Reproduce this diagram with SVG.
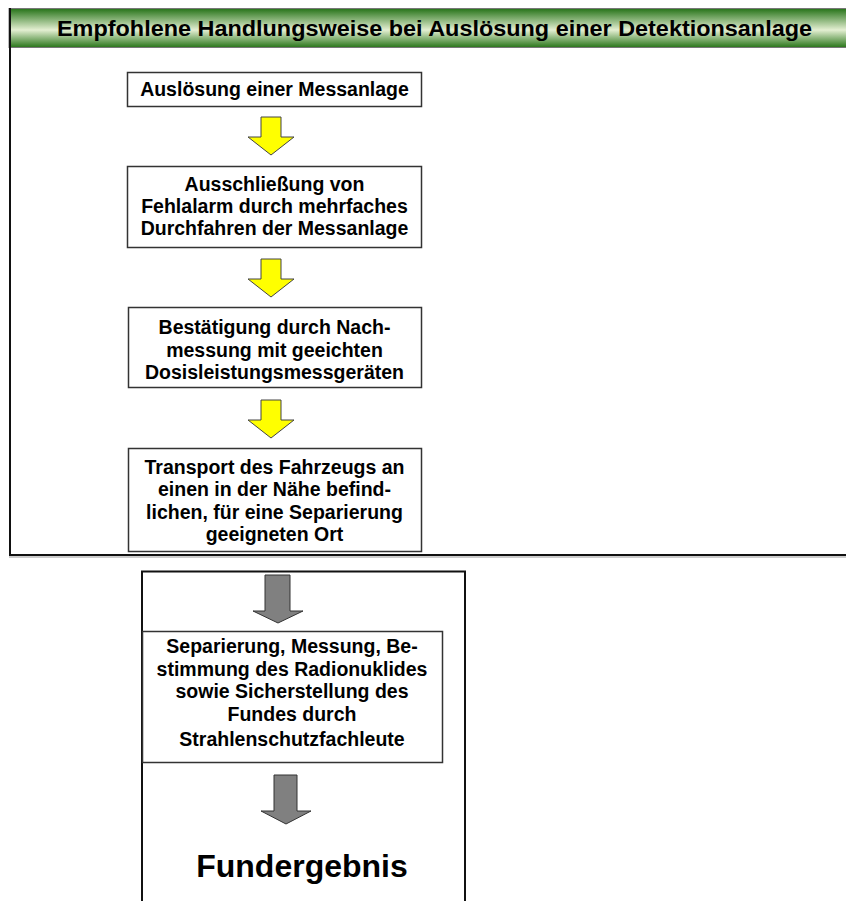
<svg xmlns="http://www.w3.org/2000/svg" width="846" height="901" viewBox="0 0 846 901">
<defs>
<linearGradient id="hdr" x1="0" y1="0" x2="0" y2="1">
<stop offset="0" stop-color="#267318"/>
<stop offset="0.55" stop-color="#e4efd2"/>
<stop offset="1" stop-color="#287519"/>
</linearGradient>
<style>
.box{fill:#fff;stroke:#333;stroke-width:1.5}
.frame{fill:none;stroke:#111;stroke-width:2}
.t{font-family:"Liberation Sans",Arial,sans-serif;font-weight:bold;font-size:19.5px;fill:#000;text-anchor:middle}
.ya{fill:#ffff00;stroke:#444;stroke-width:1}
.ga{fill:#808080;stroke:#333;stroke-width:1}
</style>
</defs>
<rect width="846" height="901" fill="#fff"/>
<g id="frame1">
<rect x="9" y="8.5" width="840" height="39" fill="url(#hdr)" stroke="#777" stroke-width="1"/>
<line x1="10" y1="8" x2="10" y2="555" stroke="#111" stroke-width="2"/>
<line x1="9" y1="555" x2="846" y2="555" stroke="#111" stroke-width="2"/>
<line x1="9" y1="557" x2="846" y2="557" stroke="#999" stroke-width="1"/>
<text x="434.5" y="36" font-family="'Liberation Sans',Arial,sans-serif" font-weight="bold" font-size="22" text-anchor="middle" fill="#000" textLength="755" lengthAdjust="spacingAndGlyphs">Empfohlene Handlungsweise bei Auslösung einer Detektionsanlage</text>
</g>
<g id="frame2">
<path class="frame" d="M142,902 V571.5 H465 V902"/>
</g>
<g id="connectors">
<polygon class="ya" points="261,117 281,117 281,137 294,137 271,155 248,137 261,137"/>
<polygon class="ya" points="261,259 281,259 281,279 294,279 271,297 248,279 261,279"/>
<polygon class="ya" points="261,400 281,400 281,420 294,420 271,438 248,420 261,420"/>
<polygon class="ga" points="265,575 290,575 290,611 303,611 278,623 253,611 265,611"/>
<polygon class="ga" points="274,775 297,775 297,811 311,811 286,824 261,811 274,811"/>
</g>
<g id="n1">
<rect class="box" x="127.5" y="72.5" width="294" height="34"/>
<text class="t" x="274.5" y="96">Auslösung einer Messanlage</text>
</g>
<g id="n2">
<rect class="box" x="127.5" y="166.5" width="294" height="81"/>
<text class="t" x="274.5" y="191">Ausschließung von</text>
<text class="t" x="274.5" y="213">Fehlalarm durch mehrfaches</text>
<text class="t" x="274.5" y="235">Durchfahren der Messanlage</text>
</g>
<g id="n3">
<rect class="box" x="128.5" y="307.5" width="293" height="80"/>
<text class="t" x="274.5" y="334">Bestätigung durch Nach-</text>
<text class="t" x="274.5" y="357">messung mit geeichten</text>
<text class="t" x="274.5" y="379">Dosisleistungsmessgeräten</text>
</g>
<g id="n4">
<rect class="box" x="128.5" y="448.5" width="293" height="103"/>
<text class="t" x="274.5" y="474">Transport des Fahrzeugs an</text>
<text class="t" x="274.5" y="496">einen in der Nähe befind-</text>
<text class="t" x="274.5" y="519">lichen, für eine Separierung</text>
<text class="t" x="274.5" y="541">geeigneten Ort</text>
</g>
<g id="n5">
<rect class="box" x="142.5" y="631.5" width="300" height="131"/>
<text class="t" x="292" y="653">Separierung, Messung, Be-</text>
<text class="t" x="292" y="676">stimmung des Radionuklides</text>
<text class="t" x="292" y="698">sowie Sicherstellung des</text>
<text class="t" x="292" y="721">Fundes durch</text>
<text class="t" x="292" y="746">Strahlenschutzfachleute</text>
</g>
<g id="n6">
<text x="302" y="877" font-family="'Liberation Sans',Arial,sans-serif" font-weight="bold" font-size="32" text-anchor="middle" fill="#000">Fundergebnis</text>
</g>
</svg>
